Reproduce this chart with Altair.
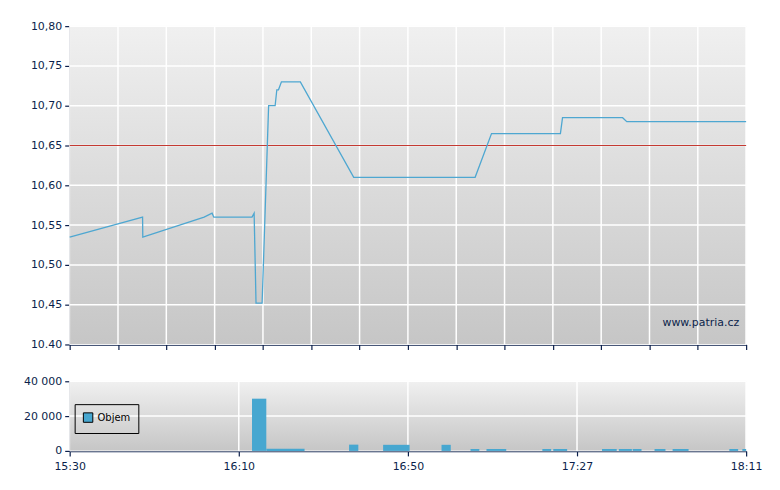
import altair as alt
import pandas as pd

# ---------------- data ----------------
# time axis in "minutes since 15:30" (0 .. 161)
price_t = [0, 17.35, 17.4, 32.0, 33.9, 34.3, 43.4, 43.9, 44.35, 45.8, 47.35, 48.9,
           49.3, 49.7, 50.4, 54.9, 67.6, 96.5, 100.4, 116.8, 117.3, 131.6, 132.6, 161]
price_v = [10.535, 10.56, 10.535, 10.56, 10.565, 10.56, 10.56, 10.565, 10.452, 10.452,
           10.70, 10.70, 10.72, 10.72, 10.73, 10.73, 10.61, 10.61, 10.665, 10.665,
           10.685, 10.685, 10.68, 10.68]

bar_start = [43.4, 46.8, 66.5, 74.6, 88.5, 95.4, 99.2, 112.5, 115.1, 126.7, 130.7,
             134.0, 139.2, 143.5, 157.0, 160.1]
bar_end = [46.8, 55.9, 68.7, 80.9, 90.7, 97.5, 103.9, 114.6, 118.4, 130.2, 133.8,
           136.1, 141.8, 147.3, 159.1, 161.0]
bar_vol = [30000, 1200, 3600, 3500, 3500, 1100, 1100, 1100, 1100, 1100, 1100,
           1100, 1100, 1100, 1100, 1100]

time_labels = ["15:30", "16:10", "16:50", "17:27", "18:11"]
price_ticks = [10.40, 10.45, 10.50, 10.55, 10.60, 10.65, 10.70, 10.75, 10.80]
vol_ticks = [0, 20000, 40000]
ref_price = 10.65
series_name = "Objem"
watermark = "www.patria.cz"

T_END = 161
N_TOP = 14

NAVY = "#0b1f4b"
FONT = "DejaVu Sans"
LINE_COLOR = "#4ea7d1"
BAR_COLOR = "#47a7d0"
W, H1, H2 = 680, 320, 70
GAP = 25

top_tick_vals = [T_END * k / N_TOP for k in range(N_TOP + 1)]
bot_tick_vals = [T_END * k / 4 for k in range(5)]

price_df = pd.DataFrame({"t": price_t, "p": price_v})
bars_df = pd.DataFrame({"a": bar_start, "b": bar_end, "v": bar_vol,
                        "s": [series_name] * len(bar_vol)})
one = pd.DataFrame({"k": [0]})


def bg(h):
    return alt.Chart(one).mark_rect(
        fill=alt.LinearGradient(
            gradient="linear",
            stops=[alt.GradientStop(color="#f0f0f0", offset=0),
                   alt.GradientStop(color="#c6c6c6", offset=1)],
            x1=0, x2=0, y1=0, y2=1),
        stroke="#f6f6f6", strokeWidth=1,
    ).encode(x=alt.value(0), x2=alt.value(W), y=alt.value(0), y2=alt.value(h))


# ---------------- top chart ----------------
xs_top = alt.Scale(domain=[0, T_END], nice=False, zero=False)
ys_top = alt.Scale(domain=[price_ticks[0], price_ticks[-1]], nice=False, zero=False)

x_top_axis = alt.Axis(values=top_tick_vals, labels=False, grid=False, title=None,
                      tickSize=5, tickColor=NAVY, domainColor=NAVY, domainWidth=1.5,
                      tickWidth=1.2, minExtent=5, maxExtent=5)
y_top_axis = alt.Axis(values=price_ticks, grid=False, title=None, tickSize=5,
                      tickColor=NAVY, domainColor=NAVY, domainWidth=1.5, tickWidth=1.2,
                      labelExpr="datum.value < 10.41 ? '10.40' : replace(format(datum.value, '.2f'), '.', ',')",
                      minExtent=55, maxExtent=55)

def xt(field="t"):
    return alt.X(f"{field}:Q", scale=xs_top, axis=x_top_axis)

def yt(field="p"):
    return alt.Y(f"{field}:Q", scale=ys_top, axis=y_top_axis)

vgrid_top = alt.Chart(pd.DataFrame({"t": top_tick_vals[1:]})).mark_rule(
    color="white", strokeWidth=1.5).encode(x=xt())
hgrid_top = alt.Chart(pd.DataFrame({"p": price_ticks[1:]})).mark_rule(
    color="white", strokeWidth=1.5).encode(y=yt())
ref_rule = alt.Chart(pd.DataFrame({"p": [ref_price]})).mark_rule(
    color="#c43a32", strokeWidth=1.2).encode(y=yt())
line = alt.Chart(price_df).mark_line(color=LINE_COLOR, strokeWidth=1.3,
                                     interpolate="linear").encode(x=xt(), y=yt())
wm = alt.Chart(one).mark_text(align="right", baseline="middle", font=FONT,
                              fontSize=11, color=NAVY).encode(
    x=alt.value(673), y=alt.value(298), text=alt.value(watermark))

top = alt.layer(bg(H1), vgrid_top, hgrid_top, ref_rule, line, wm).properties(
    width=W, height=H1)

# ---------------- bottom chart ----------------
xs_bot = alt.Scale(domain=[0, T_END], nice=False, zero=False)
ys_bot = alt.Scale(domain=[vol_ticks[0], vol_ticks[-1]], nice=False)

lab_arr = "[" + ",".join(f"'{s}'" for s in time_labels) + "]"
x_bot_axis = alt.Axis(values=bot_tick_vals, grid=False, title=None, tickSize=5,
                      tickColor=NAVY, domainColor=NAVY, domainWidth=1.5, tickWidth=1.2,
                      labelFlush=False, labelPadding=5,
                      labelExpr=f"{lab_arr}[round(datum.value / {T_END / 4})]")
y_bot_axis = alt.Axis(values=vol_ticks, grid=False, title=None, tickSize=5,
                      tickColor=NAVY, domainColor=NAVY, domainWidth=1.5, tickWidth=1.2,
                      labelExpr="replace(format(datum.value, ',d'), ',', ' ')",
                      minExtent=55, maxExtent=55)

def xb(field="a"):
    return alt.X(f"{field}:Q", scale=xs_bot, axis=x_bot_axis)

def yb(field="v"):
    return alt.Y(f"{field}:Q", scale=ys_bot, axis=y_bot_axis)

vgrid_bot = alt.Chart(pd.DataFrame({"a": bot_tick_vals[1:]})).mark_rule(
    color="white", strokeWidth=1.5).encode(x=xb())
hgrid_bot = alt.Chart(pd.DataFrame({"v": vol_ticks[1:]})).mark_rule(
    color="white", strokeWidth=1.5).encode(y=yb())
bars = alt.Chart(bars_df).mark_rect().encode(
    x=xb("a"), x2="b:Q", y=yb("v"), y2=alt.datum(0),
    color=alt.Color("s:N", scale=alt.Scale(range=[BAR_COLOR]),
                    legend=alt.Legend(title=None, orient="none", legendX=5,
                                      legendY=380,
                                      strokeColor="#000000", padding=8,
                                      symbolType="square", symbolSize=90,
                                      symbolStrokeColor="#000000", symbolStrokeWidth=1,
                                      labelFont=FONT, labelFontSize=10,
                                      labelColor="#000000", symbolOffset=0)),
)

bottom = alt.layer(bg(H2), vgrid_bot, hgrid_bot, bars).properties(width=W, height=H2)

chart = alt.vconcat(top, bottom, spacing=GAP).properties(
    padding={"left": 7, "top": 11, "right": 10, "bottom": 5},
    background="white",
).configure_view(stroke=None).configure_axis(
    labelFont=FONT, labelFontSize=11, labelColor=NAVY, labelPadding=3
)

chart.save("out.html", embed_options={"renderer": "svg", "actions": False})
